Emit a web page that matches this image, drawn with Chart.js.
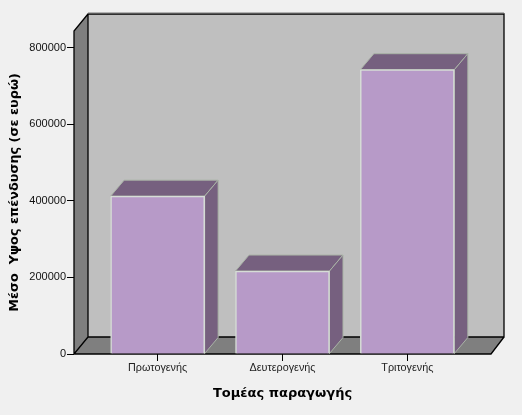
<!DOCTYPE html>
<html><head><meta charset="utf-8">
<script src="https://cdn.jsdelivr.net/npm/chart.js@4"></script>
<style>html,body{margin:0;padding:0;background:#f0f0f0}canvas{display:block}</style>
</head><body><canvas id="c" width="522" height="415"></canvas>
<script>
const categories = ["Πρωτογενής", "Δευτερογενής", "Τριτογενής"];
const values = [412000, 216500, 742000];
const yTicks = [0, 200000, 400000, 600000, 800000];
const yTitle = "Μέσο  Υψος επένδυσης (σε ευρώ)";
const xTitle = "Τομέας παραγωγής";

const WALL_DX = 14, WALL_DY = 17, BAR_DX = 13.5, BAR_DY = 16;

function poly(ctx, pts, fill, stroke, lw) {
  ctx.beginPath();
  pts.forEach((p, i) => i ? ctx.lineTo(p[0], p[1]) : ctx.moveTo(p[0], p[1]));
  ctx.closePath();
  if (fill) { ctx.fillStyle = fill; ctx.fill(); }
  if (stroke) { ctx.strokeStyle = stroke; ctx.lineWidth = lw || 1; ctx.stroke(); }
}

const box3d = {
  id: "box3d",
  beforeDatasetsDraw(chart) {
    const { ctx, chartArea: a } = chart;
    const L = a.left, R = a.right, T = a.top, B = a.bottom;
    const lx = L + WALL_DX, rx = R + WALL_DX - 1, ty = T - WALL_DY, by = B - WALL_DY;
    ctx.save();
    poly(ctx, [[lx, ty], [rx, ty], [rx, by], [lx, by]], "#bfbfbf");
    poly(ctx, [[L, T], [lx, ty], [lx, by], [L, B]], "#7f7f7f");
    poly(ctx, [[L, B], [lx, by], [rx, by], [R, B]], "#7f7f7f");
    ctx.strokeStyle = "#000"; ctx.lineWidth = 1.3;
    ctx.beginPath();
    ctx.moveTo(L, B); ctx.lineTo(L, T); ctx.lineTo(lx, ty); ctx.lineTo(rx, ty); ctx.lineTo(rx, by); ctx.lineTo(lx, by); ctx.lineTo(lx, ty);
    ctx.moveTo(L, B); ctx.lineTo(lx, by);
    ctx.moveTo(rx, by); ctx.lineTo(R, B); ctx.lineTo(L, B);
    ctx.stroke();
    ctx.strokeStyle = "#777"; ctx.lineWidth = 1;
    ctx.beginPath(); ctx.moveTo(lx, ty - 1); ctx.lineTo(rx, ty - 1); ctx.stroke();
    const meta = chart.getDatasetMeta(0);
    const edge = "#a9b3a6";
    meta.data.forEach(bar => {
      const hw = bar.width / 2, l = bar.x - hw, r = bar.x + hw, t = bar.y, b = bar.base;
      poly(ctx, [[l, t], [l + BAR_DX, t - BAR_DY], [r + BAR_DX, t - BAR_DY], [r, t]], "#76607f", edge, 1);
      poly(ctx, [[r, t], [r + BAR_DX, t - BAR_DY], [r + BAR_DX, b - BAR_DY], [r, b]], "#76607f", edge, 1);
    });
    ctx.restore();
  }
};

new Chart(document.getElementById("c"), {
  type: "bar",
  data: {
    datasets: [{
      data: values.map((v, i) => ({ x: i, y: v })),
      backgroundColor: "#b79ac8",
      borderColor: "#d6ddd6",
      borderWidth: 1.5,
      barThickness: 94
    }]
  },
  options: {
    responsive: false,
    animation: false,
    devicePixelRatio: 1,
    layout: { padding: { top: 31, right: 31, left: 0, bottom: 0 } },
    plugins: { legend: { display: false }, tooltip: { enabled: false } },
    scales: {
      x: {
        type: "linear",
        offset: false,
        min: -0.67, max: 2.67,
        afterBuildTicks: s => { s.ticks = categories.map((_, i) => ({ value: i })); },
        afterFit: s => { s.height = 61; },
        grid: { offset: false, drawOnChartArea: false, drawTicks: true, tickLength: 7, color: "#000", lineWidth: 1 },
        border: { display: false },
        ticks: {
          callback: v => categories[v],
          autoSkip: false, maxRotation: 0,
          font: { family: "Liberation Sans", size: 10.8 }, color: "#222", padding: 1
        },
        title: { display: true, text: xTitle, color: "#000",
          font: { family: "DejaVu Sans", size: 13, weight: "bold" }, padding: { top: 0, bottom: 14 } }
      },
      y: {
        min: 0, max: 843000,
        afterBuildTicks: s => { s.ticks = yTicks.map(v => ({ value: v })); },
        afterFit: s => { s.width = 74; },
        grid: { drawOnChartArea: false, drawTicks: true, tickLength: 7, color: "#000", lineWidth: 1 },
        border: { display: false },
        ticks: {
          callback: v => String(v),
          font: { family: "Liberation Sans", size: 11 }, color: "#111", padding: 1
        },
        title: { display: true, text: yTitle, color: "#000",
          font: { family: "DejaVu Sans", size: 12.8, weight: "bold" }, padding: { top: 7, bottom: 0 } }
      }
    }
  },
  plugins: [box3d]
});
</script></body></html>
